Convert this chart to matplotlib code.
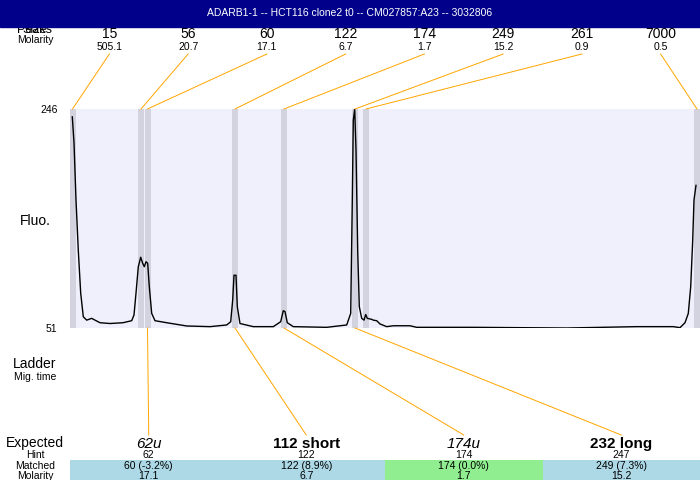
import matplotlib
matplotlib.use("Agg")
import matplotlib.pyplot as plt
from matplotlib.patches import Rectangle

plt.rcParams['font.family'] = ['Liberation Sans', 'DejaVu Sans']

# titre et données
titre = "ADARB1-1 -- HCT116 clone2 t0 -- CM027857:A23 -- 3032806"

# pics détectés (position en unités de temps de migration)
pic_taille = ["15", "56", "60", "122", "174", "249", "261", "7000"]
pic_molarite = ["505.1", "20.7", "17.1", "6.7", "1.7", "15.2", "0.9", "0.5"]
pic_pos = [2.5, 71, 77.5, 165, 214, 285, 296, 627]

# tailles attendues
attendu = ["62u", "112 short", "174u", "232 long"]
hint = [62, 122, 174, 247]
apparie = [60, 122, 174, 249]
apparie_ecart = [-3.2, 8.9, 0.0, 7.3]
apparie_molarite = ["17.1", "6.7", "1.7", "15.2"]
apparie_pic = [2, 3, 4, 5]

# électrophérogramme
trace_x = [2.3, 4, 6, 8.3, 10.7, 13.3, 16.7, 21.7, 25, 30, 40, 53, 61.7, 64, 66, 68.3,
           70.7, 72.7, 74.3, 76, 77.7, 79.3, 81.7, 85, 96.7, 116.7, 140, 156.7, 160.7,
           162.7, 164, 166, 167.3, 170, 183.3, 203.3, 210.7, 213.3, 215, 217.3, 223.3,
           256.7, 276.7, 280.7, 282.3, 283.3, 284.7, 286, 287.7, 289.3, 291.7, 294,
           295.7, 297.3, 301.7, 303.3, 306.7, 310, 316.7, 323.3, 340, 346.7, 403.3,
           496.7, 566.7, 603.3, 610, 615, 618.3, 620.7, 622.7, 624, 626]
trace_y = [239, 216, 165, 120, 82, 61, 58, 59.6, 58, 55.7, 55, 55.7, 57.5, 62.6, 82, 105.6,
           114, 108.6, 105.6, 110, 108.6, 87.8, 64, 57.5, 55.7, 52.8, 52.2, 53.7, 56.6,
           76, 98, 98, 70, 55, 52.2, 52.2, 56.6, 66.4, 65.6, 55.7, 52.2,
           51.6, 53.7, 64, 165, 236, 246, 209.5, 120, 70, 59.6, 58,
           63, 59.6, 58.7, 58, 57.5, 54.6, 52.2, 53, 53, 51.6, 51.6,
           51, 52.2, 52.2, 51.3, 55.7, 64, 87.8, 129, 165, 178]

orange = '#FFA500'

fig = plt.figure(figsize=(7, 4.8), dpi=100)

# zone du tracé
ax = fig.add_axes([70 / 700, 152 / 480, 630 / 700, 219 / 480])
ax.set_facecolor('#F0F0FC')
ax.set_xlim(0, 630)
ax.set_ylim(51, 246)
for p in pic_pos:
    ax.axvspan(p - 3, p + 3, color='#D3D3E0', lw=0)
ax.plot(trace_x, trace_y, color='black', lw=1)
for s in ax.spines.values():
    s.set_visible(False)
ax.set_xticks([])
ax.set_yticks([51, 246])
ax.set_yticklabels(["51", "246"], fontsize=7.5)
ax.tick_params(length=0, pad=9)

# calque en pixels pour les annotations
ov = fig.add_axes([0, 0, 1, 1])
ov.set_xlim(0, 700)
ov.set_ylim(480, 0)
ov.axis('off')
ov.patch.set_visible(False)

def vers_px(x, y):
    d = ax.transData.transform((x, y))
    return ov.transData.inverted().transform(d)

# bandeau titre (les libellés de gauche passent sous le bandeau)
ov.text(35, 30, "Peaks", ha='center', va='center', fontsize=9, zorder=1)
ov.text(35, 30, "Size", ha='center', va='center', fontsize=9, zorder=1)
ov.add_patch(Rectangle((0, 0), 700, 27, color='#00008B', zorder=2))
ov.text(350, 13.5, titre, color='white', ha='center', va='center', fontsize=7.5, zorder=3)
ov.text(35, 40, "Molarity", ha='center', va='center', fontsize=7.5)

# étiquettes des pics en haut
larg = 630 / len(pic_taille)
for i, (t, m, p) in enumerate(zip(pic_taille, pic_molarite, pic_pos)):
    cx = 70 + larg * (i + 0.5)
    ov.text(cx, 34, t, ha='center', va='center', fontsize=10)
    ov.text(cx, 47, m, ha='center', va='center', fontsize=7.5)
    px, py = vers_px(p, 246)
    ov.plot([cx, px], [54, py], color=orange, lw=0.7)

ov.text(35, 221, "Fluo.", ha='center', va='center', fontsize=10)
ov.text(35, 364, "Ladder", ha='center', va='center', fontsize=10)
ov.text(35, 377, "Mig. time", ha='center', va='center', fontsize=7.5)

# tableau du bas
ov.text(35, 443, "Expected", ha='center', va='center', fontsize=10)
ov.text(35, 455, "Hint", ha='center', va='center', fontsize=7.5)
ov.text(35, 466, "Matched", ha='center', va='center', fontsize=7.5)
ov.text(35, 476, "Molarity", ha='center', va='center', fontsize=7.5)

larg = 630 / len(attendu)
for i in range(len(attendu)):
    x0 = 70 + larg * i
    cx = x0 + larg / 2
    couleur = '#90EE90' if apparie_ecart[i] == 0 else '#ADD8E6'
    ov.add_patch(Rectangle((x0, 460), larg, 20, color=couleur, lw=0, zorder=0))
    if attendu[i].endswith('u'):
        ov.text(cx, 444, attendu[i], ha='center', va='center', fontsize=11, style='italic')
    else:
        ov.text(cx, 444, attendu[i], ha='center', va='center', fontsize=11, weight='bold')
    ov.text(cx, 455, str(hint[i]), ha='center', va='center', fontsize=7.5)
    ov.text(cx, 466, f"{apparie[i]} ({apparie_ecart[i]:.1f}%)", ha='center', va='center', fontsize=7.5)
    ov.text(cx, 476, apparie_molarite[i], ha='center', va='center', fontsize=7.5)
    px, py = vers_px(pic_pos[apparie_pic[i]], 51)
    ov.plot([px, cx], [py, 435], color=orange, lw=0.7, zorder=0.5)

fig.savefig("out.png", dpi=100)
